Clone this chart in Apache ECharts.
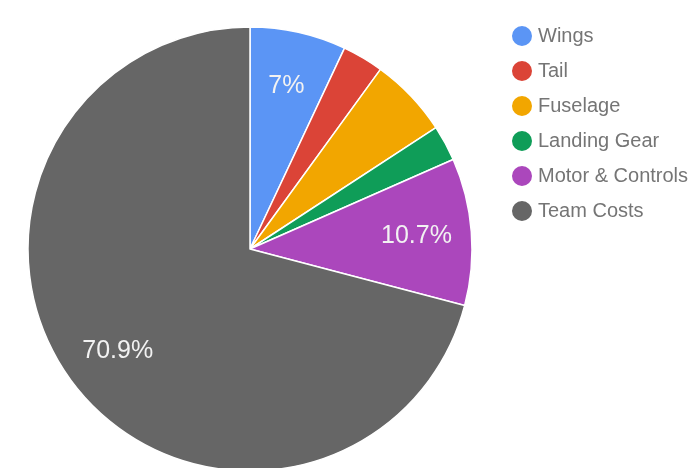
<!DOCTYPE html>
<html>
<head>
<meta charset="utf-8">
<script src="https://cdn.jsdelivr.net/npm/echarts@6/dist/echarts.min.js"></script>
<style>html,body{margin:0;padding:0;background:#fff;}#c{width:692px;height:468px;}</style>
</head>
<body>
<div id="c"></div>
<script>
var categories = ['Wings', 'Tail', 'Fuselage', 'Landing Gear', 'Motor & Controls', 'Team Costs'];
var values = [7, 3, 5.8, 2.6, 10.7, 70.9];
var colors = ['#5b95f5', '#db4437', '#f2a600', '#0f9d58', '#ab47bc', '#666666'];
var labelled = ['Wings', 'Motor & Controls', 'Team Costs'];

var chart = echarts.init(document.getElementById('c'), null, {renderer: 'canvas'});
var mainData = categories.map(function (c, i) {
  return {name: c, value: values[i], itemStyle: {color: colors[i]}};
});
var labelData = categories.map(function (c, i) {
  return {name: c, value: values[i], itemStyle: {color: 'rgba(0,0,0,0)'},
    label: {show: labelled.indexOf(c) >= 0}};
});
chart.setOption({
  animation: false,
  color: colors,
  legend: {
    orient: 'vertical',
    left: 505,
    top: 19,
    padding: 5,
    icon: 'circle',
    itemWidth: 22,
    itemHeight: 22,
    itemGap: 11,
    data: categories,
    textStyle: {fontFamily: 'Liberation Sans, Arial', fontSize: 20, color: '#757575', lineHeight: 22}
  },
  series: [{
    type: 'pie',
    center: [250, 249],
    radius: [0, 222],
    startAngle: 90,
    clockwise: true,
    label: {show: false},
    labelLine: {show: false},
    itemStyle: {borderColor: '#ffffff', borderWidth: 1.5},
    emphasis: {disabled: true},
    data: mainData
  }, {
    type: 'pie',
    center: [250, 249],
    radius: [106, 222],
    startAngle: 90,
    clockwise: true,
    silent: true,
    label: {show: true, position: 'inside', formatter: '{d}%', color: '#f2f2f2',
      fontFamily: 'Liberation Sans, Arial', fontSize: 25},
    labelLine: {show: false},
    itemStyle: {borderWidth: 0},
    emphasis: {disabled: true},
    data: labelData
  }]
});
</script>
</body>
</html>
